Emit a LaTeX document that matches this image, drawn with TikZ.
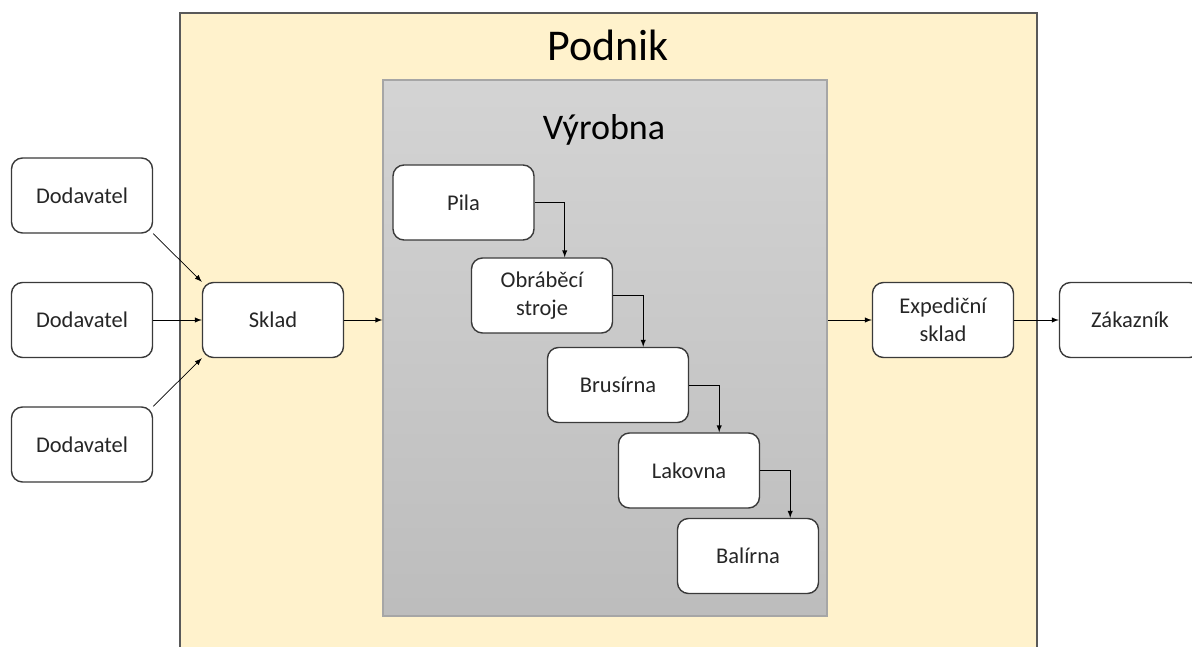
\documentclass[tikz,border=0pt]{standalone}
\usepackage{fontspec}
\setmainfont{Carlito}
\definecolor{podnikfill}{HTML}{FFF2CC}
\definecolor{podnikline}{HTML}{595959}
\definecolor{boxline}{HTML}{3A3A3A}
\definecolor{boxtext}{HTML}{262626}

\begin{document}
\begin{tikzpicture}[
  >=latex,
  box/.style={rectangle, rounded corners=2.2mm, draw=boxline, line width=0.8pt, fill=white,
    minimum width=2.82cm, minimum height=1.5cm, align=center, text=boxtext,
    font=\fontsize{12.8}{16}\selectfont},
  areatitle/.style={text=black, font=\fontsize{25}{28}\selectfont},
  ]

\useasboundingbox (0,0) rectangle (23.84,-12.94);

% Podnik
\node[rectangle, draw=podnikline, line width=1pt, fill=podnikfill, minimum width=17.14cm,
  minimum height=14cm, anchor=north] (podnik) at (12.17,-0.24) {};
\node[areatitle] (podniktitle) at (12.16,-0.9) {Podnik};

% Vyrobna
\node[rectangle, draw=black!35, line width=0.8pt, top color=black!17, bottom color=black!26,
  minimum width=8.88cm, minimum height=10.72cm] (vyrobna) at (12.1,-6.96) {};
\node[areatitle, font=\fontsize{20.5}{24}\selectfont] (vyrobnatitle) at (12.08,-2.6) {Výrobna};

\node[box] (dod1) at (1.64,-3.91) {Dodavatel};
\node[box] (dod2) at (1.64,-6.4) {Dodavatel};
\node[box] (dod3) at (1.64,-8.89) {Dodavatel};
\node[box] (sklad) at (5.46,-6.4) {Sklad};

\node[box] (pila) at (9.27,-4.05) {Pila};
\node[box] (obr) at (10.84,-5.91) {Obráběcí\\stroje};
\node[box] (brus) at (12.36,-7.7) {Brusírna};
\node[box] (lak) at (13.78,-9.41) {Lakovna};
\node[box] (bal) at (14.96,-11.12) {Balírna};

\node[box] (exp) at (18.86,-6.4) {Expediční\\sklad};
\node[box] (zak) at (22.6,-6.4) {Zákazník};

\draw[->] (dod1.south east) -- (sklad.north west);
\draw[->] (dod2) -- (sklad);
\draw[->] (dod3.north east) -- (sklad.south west);
\draw[->] (sklad) -- (vyrobna.west |- sklad);

\foreach \a/\b in {pila/obr, obr/brus, brus/lak, lak/bal}
  \draw[->] (\a.east) -- ++(0.6,0) coordinate (\a-turn) -- (\a-turn |- \b.north);

\draw[->] (vyrobna.east |- exp) -- (exp);
\draw[->] (exp) -- (zak);

\end{tikzpicture}
\end{document}
